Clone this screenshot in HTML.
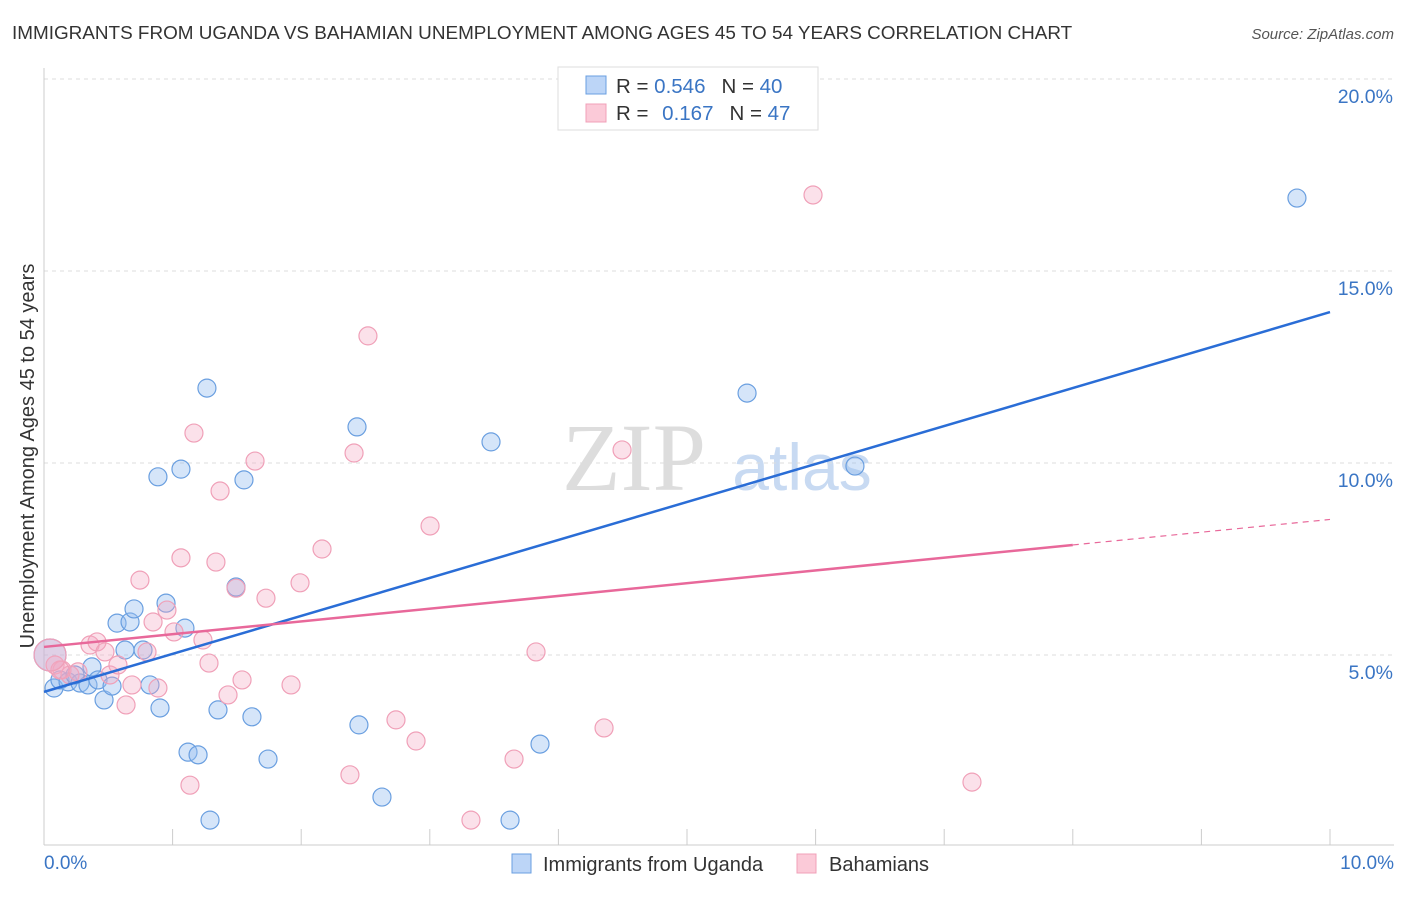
<!DOCTYPE html>
<html><head><meta charset="utf-8"><style>
body{margin:0;background:#fff;font-family:"Liberation Sans",sans-serif;}
svg text{font-family:"Liberation Sans",sans-serif;}
</style></head><body>
<svg id="chart" width="1406" height="892" viewBox="0 0 1406 892">
<text x="12" y="39" font-size="18.9" fill="#333">IMMIGRANTS FROM UGANDA VS BAHAMIAN UNEMPLOYMENT AMONG AGES 45 TO 54 YEARS CORRELATION CHART</text>
<text x="1394" y="39" font-size="15" fill="#555" font-style="italic" text-anchor="end">Source: ZipAtlas.com</text>
<text x="634" y="490" font-size="96" fill="#ddd" style="font-family:'Liberation Serif',serif" text-anchor="middle">ZIP</text>
<text x="802" y="490" font-size="66" fill="#c8daf2" text-anchor="middle">atlas</text>
<g id="grid"></g>
<g id="axes"></g>
<g id="marks"></g>
<text transform="translate(34,456) rotate(-90)" font-size="20" fill="#333" text-anchor="middle">Unemployment Among Ages 45 to 54 years</text>
<text x="44" y="869" font-size="19" fill="#3a75c4">0.0%</text>
<text x="1394" y="869" font-size="19" fill="#3a75c4" text-anchor="end">10.0%</text>
<g>
<rect x="558" y="67" width="260" height="63" fill="#fff" stroke="#ddd"/>
<rect x="586" y="76" width="20" height="18" fill="#bcd5f7" stroke="#6a9fe0"/>
<rect x="586" y="104" width="20" height="18" fill="#fbcad8" stroke="#f0a0b8"/>
<text x="616" y="93" font-size="20.5" fill="#333">R = <tspan fill="#3a75c4">0.546</tspan><tspan dx="16">N = </tspan><tspan fill="#3a75c4">40</tspan></text>
<text x="616" y="120" font-size="20.5" fill="#333">R = <tspan dx="8" fill="#3a75c4">0.167</tspan><tspan dx="16">N = </tspan><tspan fill="#3a75c4">47</tspan></text>
</g>
<g>
<rect x="512" y="854" width="19" height="19" fill="#bcd5f7" stroke="#6a9fe0"/>
<text x="543" y="871" font-size="20" fill="#333">Immigrants from Uganda</text>
<rect x="797" y="854" width="19" height="19" fill="#fbcad8" stroke="#f0a0b8"/>
<text x="829" y="871" font-size="20" fill="#333">Bahamians</text>
</g>
</svg>
<script>
const yTicks=[5,10,15,20];
const yTickLabels=["5.0%","10.0%","15.0%","20.0%"];
const xTicks=[0,1,2,3,4,5,6,7,8,9,10];
const ugandaX=[0.078,0.124,0.187,0.280,0.342,0.373,0.420,0.467,0.529,0.568,0.630,0.669,0.700,0.770,0.824,0.886,0.902,0.949,1.065,1.096,1.120,1.198,1.267,1.291,1.353,1.493,1.555,1.617,1.742,2.434,2.449,2.628,3.476,3.624,3.857,5.467,6.306,9.743,0.241,0.047];
const ugandaY=[4.14,4.35,4.30,4.27,4.22,4.69,4.35,3.83,4.19,5.83,5.13,5.86,6.20,5.13,4.22,9.64,3.62,6.35,9.84,5.70,2.47,2.40,11.95,0.70,3.57,6.77,9.56,3.39,2.29,10.94,3.18,1.30,10.55,0.70,2.68,11.82,9.92,16.90,4.48,5.0];
const bahamiansX=[0.086,0.140,0.202,0.264,0.358,0.412,0.474,0.513,0.575,0.638,0.684,0.746,0.801,0.848,0.886,0.956,1.011,1.065,1.135,1.166,1.236,1.283,1.337,1.369,1.431,1.493,1.540,1.641,1.726,1.921,1.991,2.162,2.379,2.411,2.519,2.737,2.893,3.002,3.320,3.655,3.826,4.355,4.495,5.980,7.216,0.124,0.047];
const bahamiansY=[4.74,4.61,4.48,4.56,5.26,5.34,5.08,4.48,4.74,3.70,4.22,6.95,5.08,5.86,4.14,6.17,5.60,7.53,1.61,10.78,5.39,4.79,7.42,9.27,3.96,6.74,4.35,10.05,6.48,4.22,6.88,7.76,1.88,10.26,13.31,3.31,2.76,8.36,0.70,2.29,5.08,3.10,10.34,16.98,1.69,4.61,5.0];
const ugandaTrend=[4.04,0.989];      // intercept, slope
const bahamiansTrend=[5.21,0.332];
const bahamiansSolidEnd=8.0;
const bigIndexU=ugandaX.length-1, bigIndexB=bahamiansX.length-1;

const X0=44,X1=1330,Y0=847,PX5=192;
const sx=v=>X0+(v/10)*(X1-X0);
const sy=v=>Y0-(v/5)*PX5;
const NS="http://www.w3.org/2000/svg";
function mk(tag,attrs,parent){const e=document.createElementNS(NS,tag);for(const k in attrs)e.setAttribute(k,attrs[k]);parent.appendChild(e);return e;}
const grid=document.getElementById('grid'),axes=document.getElementById('axes'),marks=document.getElementById('marks');
yTicks.forEach((t,i)=>{
 const l=mk('line',{x1:44,x2:1394,y1:sy(t),y2:sy(t),stroke:'#ddd','stroke-dasharray':'4,4'},grid);
 
 
 const tx=mk('text',{x:1393,y:sy(t)+24,'font-size':19.5,fill:'#3a75c4','text-anchor':'end'},axes);
 tx.textContent=yTickLabels[i];
 
 
});
const ax=mk('line',{x1:44,x2:1394,y1:845,y2:845,stroke:'#ccc'},axes);


const ay=mk('line',{x1:44,x2:44,y1:68,y2:845,stroke:'#ccc'},axes);


xTicks.forEach(t=>{
 const l=mk('line',{x1:sx(t),x2:sx(t),y1:829,y2:845,stroke:'#ccc'},axes);
 
 
});
ugandaX.forEach((x,i)=>{
 const c=mk('circle',{cx:sx(x),cy:sy(ugandaY[i]),r:i===bigIndexU?16:9,fill:'rgba(150,190,240,0.4)',stroke:'#6a9fe0','stroke-width':1.2},marks);
 
 
});
bahamiansX.forEach((x,i)=>{
 const c=mk('circle',{cx:sx(x),cy:sy(bahamiansY[i]),r:i===bigIndexB?16:9,fill:'rgba(244,170,195,0.35)',stroke:'#f0a0b8','stroke-width':1.2},marks);
 
 
});
const tl=(tr,x)=>tr[0]+tr[1]*x;
const lu=mk('line',{x1:sx(0),y1:sy(tl(ugandaTrend,0)),x2:sx(10),y2:sy(tl(ugandaTrend,10)),stroke:'#2a6dd6','stroke-width':2.5},marks);


const lb=mk('line',{x1:sx(0),y1:sy(tl(bahamiansTrend,0)),x2:sx(bahamiansSolidEnd),y2:sy(tl(bahamiansTrend,bahamiansSolidEnd)),stroke:'#e8689a','stroke-width':2.5},marks);


const lbd=mk('line',{x1:sx(bahamiansSolidEnd),y1:sy(tl(bahamiansTrend,bahamiansSolidEnd)),x2:sx(10),y2:sy(tl(bahamiansTrend,10)),stroke:'#e8689a','stroke-width':1.2,'stroke-dasharray':'6,5'},marks);


</script>
</body></html>
